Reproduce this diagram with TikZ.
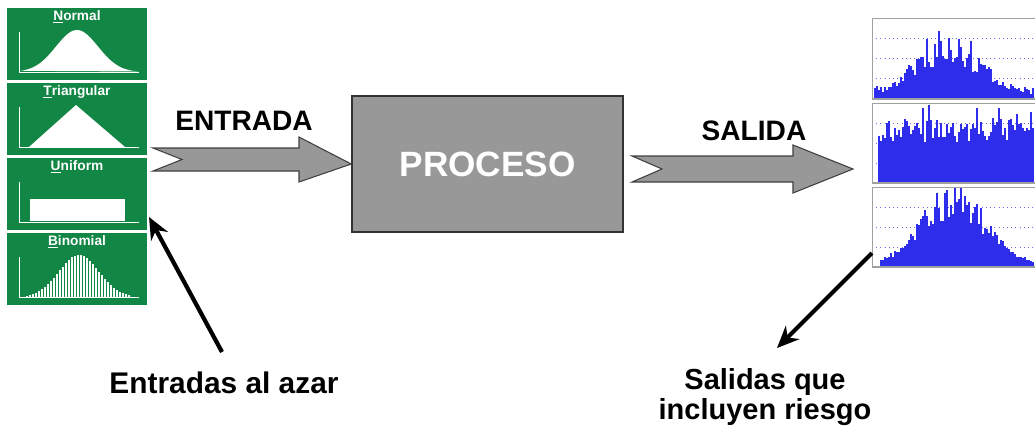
\documentclass[tikz,border=0pt]{standalone}
\usepackage{fontspec}
\setmainfont{Liberation Sans}
\usetikzlibrary{arrows.meta}

\definecolor{panelgreen}{RGB}{18,134,68}
\definecolor{boxgray}{RGB}{152,152,152}
\definecolor{histblue}{RGB}{45,45,235}
\definecolor{framegray}{RGB}{160,160,160}

\begin{document}
\begin{tikzpicture}[x=0.02cm,y=-0.02cm,
  panel/.style={fill=panelgreen},
  paneltitle/.style={text=white,inner sep=0pt,font=\bfseries\fontsize{7.8}{8}\selectfont},
  axis/.style={draw=white,line width=0.5pt},
  blockarrow/.style={fill=boxgray,draw=black!75,line width=0.6pt,line join=miter},
  bigtext/.style={font=\bfseries\fontsize{17}{17}\selectfont,align=center},
  pointer/.style={line width=2.4pt,-{Stealth[length=0.44cm,width=0.38cm]}},
  gridline/.style={histblue!70,dotted,line width=0.4pt}]
\useasboundingbox (0,0) rectangle (1035,434);
\pgfmathsetseed{11}

% input distributions
\begin{scope}[shift={(7,8)}]
\fill[panel] (0,0) rectangle (140,72);
\node[paneltitle] (lblnormal) at (70,9) {\underline{N}ormal};
\fill[white] plot[domain=14:132,samples=60] (\x,{64-42*exp(-((\x-70)/21)^2/2)}) -- cycle;
\draw[axis] (12,24) -- (12,64) -- (132,64);
\end{scope}
\begin{scope}[shift={(7,83)}]
\fill[panel] (0,0) rectangle (140,72);
\node[paneltitle] (lbltriang) at (70,9) {\underline{T}riangular};
\fill[white] (22,64) -- (69,22) -- (118,64) -- cycle;
\draw[axis] (12,24) -- (12,64) -- (132,64);
\end{scope}
\begin{scope}[shift={(7,158)}]
\fill[panel] (0,0) rectangle (140,72);
\node[paneltitle] (lbluniform) at (70,9) {\underline{U}niform};
\fill[white] (23,41) rectangle (118,63);
\draw[axis] (12,24) -- (12,64) -- (132,64);
\end{scope}
\begin{scope}[shift={(7,233)}]
\fill[panel] (0,0) rectangle (140,72);
\node[paneltitle] (lblbinom) at (70,9) {\underline{B}inomial};
\foreach \i in {0,...,34} {
  \pgfmathsetmacro\bx{20+3*\i}
  \pgfmathsetmacro\by{64-42*exp(-((\bx-72)/20)^2/2)}
  \draw[white,line width=0.9pt] (\bx,64) -- (\bx,\by);
}
\draw[axis] (12,24) -- (12,64) -- (132,64);
\end{scope}

% process
\node[fill=boxgray,draw=black!80,line width=0.9pt,minimum width=5.42cm,minimum height=2.72cm,
  text=white,font=\bfseries\fontsize{20}{20}\selectfont] (proceso) at (487.5,164) {PROCESO};

\draw[blockarrow] (153,148) -- (299,148) -- (299,137) -- (proceso.west) -- (299,182)
  -- (299,171) -- (153,171) -- (182,159.5) -- cycle;
\draw[blockarrow] (632,156) -- (793,156) -- (793,145) -- (853,169) -- (793,193)
  -- (793,182) -- (632,182) -- (662,169) -- cycle;
\node[font=\bfseries\fontsize{16}{16}\selectfont] (entrada) at (244,121) {ENTRADA};
\node[font=\bfseries\fontsize{16}{16}\selectfont] (salida) at (754,131) {SALIDA};

% output histograms
\begin{scope}
\clip (872,18) rectangle (1035,99);
\fill[white] (872,18) rectangle (1040,99);
\foreach \g in {38,58,78} \draw[gridline] (872,\g) -- (1035,\g);
\foreach \i in {0,...,79} {
  \pgfmathsetmacro\bx{874+2*\i}
  \pgfmathsetmacro\bh{(9+64*exp(-((\bx-948)/28)^2/2))*(0.45+0.65*rnd)}
  \fill[histblue] (\bx,98) rectangle ++(1.6,-\bh);
}
\draw[framegray,line width=1pt] (872,18) rectangle (1040,99);
\end{scope}
\begin{scope}
\clip (872,103) rectangle (1035,183);
\fill[white] (872,103) rectangle (1040,183);
\foreach \g in {123,143,163} \draw[gridline] (872,\g) -- (1035,\g);
\foreach \i in {0,...,77} {
  \pgfmathsetmacro\bx{878+2*\i}
  \pgfmathsetmacro\bh{40+24*rnd+14*(rnd>0.82)}
  \fill[histblue] (\bx,182) rectangle ++(1.6,-\bh);
}
\draw[framegray,line width=1pt] (872,103) rectangle (1040,183);
\end{scope}
\begin{scope}
\clip (872,187) rectangle (1035,267);
\fill[white] (872,187) rectangle (1040,267);
\foreach \g in {207,227,247} \draw[gridline] (872,\g) -- (1035,\g);
\foreach \i in {0,...,76} {
  \pgfmathsetmacro\bx{880+2*\i}
  \pgfmathsetmacro\bh{2+76*exp(-((\bx-953)/32)^2/2)*(0.6+0.5*rnd)}
  \fill[histblue] (\bx,266) rectangle ++(1.6,-\bh);
}
\draw[framegray,line width=1pt] (872,187) rectangle (1040,267);
\end{scope}

% labels and pointers
\node[bigtext] (azar) at (224,383) {Entradas al azar};
\node[bigtext,font=\bfseries\fontsize{16.5}{17}\selectfont] (riesgo) at (765,397) {Salidas que\\incluyen riesgo};
\coordinate (uniformcorner) at (149,217);
\coordinate (azartail) at (222,352);
\coordinate (histcorner) at (872,253);
\coordinate (riesgotip) at (777,348);
\draw[pointer] (azartail) -- (uniformcorner);
\draw[pointer] (histcorner) -- (riesgotip);
\end{tikzpicture}
\end{document}
